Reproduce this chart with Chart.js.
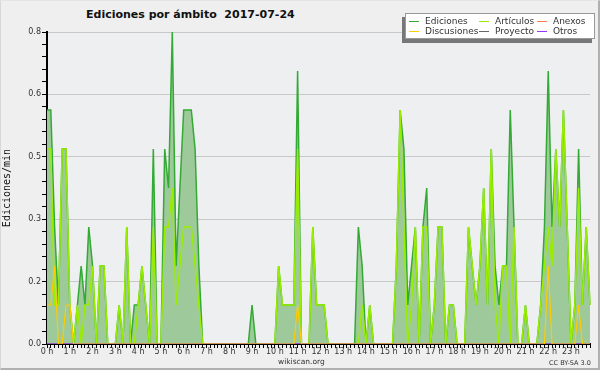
<!DOCTYPE html>
<html>
<head>
<meta charset="utf-8">
<script src="https://cdn.jsdelivr.net/npm/chart.js"></script>
<style>
    body { margin: 0; background: #fff; }
    #wrap {
        position: relative; width: 600px; height: 370px; box-sizing: border-box;
        background: #efefef; border-left: 1px solid #d8d8d8; border-top: 1px solid #e4e4e4;
        border-right: 2px solid #b0b0b0; border-bottom: 2px solid #b0b0b0;
        font-family: "DejaVu Sans", sans-serif; color: #222;
    }
    #chart { position: absolute; left: 0; top: 0; }
    #title {
        position: absolute; left: 85px; top: 7px; font-size: 11px; font-weight: bold;
        white-space: pre; line-height: 13px; color: #111;
    }
    #legend {
        position: absolute; left: 404px; top: 12px; width: 188px; height: 24px;
        background: #fff; border: 1px solid #999; box-shadow: -3px 4px 0 #777;
        font-size: 9px; color: #333;
    }
    #legend .item { position: absolute; white-space: nowrap; line-height: 10px; }
    #legend .swatch { display: inline-block; width: 10px; height: 1px; vertical-align: middle; margin-right: 6px; }
    #foot1 { position: absolute; left: 277px; top: 356px; font-size: 7.5px; color: #333; }
    #foot2 { position: absolute; left: 548px; top: 358px; font-size: 6.5px; color: #333; }
</style>
</head>
<body>
<div id="wrap">
    <div id="title">Ediciones por ámbito  2017-07-24</div>
    <canvas id="chart" width="600" height="370"></canvas>
    <div id="legend"></div>
    <div id="foot1">wikiscan.org</div>
    <div id="foot2">CC BY-SA 3.0</div>
</div>
<script>
// edits per minute, one value every 10 minutes (144 slots)
const ediciones = [
    0.6, 0.6, 0.3, 0.1, 0.5, 0.5,   0.1, 0, 0.1, 0.2, 0.1, 0.3,
    0.2, 0, 0.2, 0.2, 0, 0,         0, 0.1, 0, 0.3, 0, 0.1,
    0.1, 0.2, 0.1, 0, 0.5, 0,       0, 0.5, 0.4, 0.8, 0.2, 0.4,
    0.6, 0.6, 0.6, 0.5, 0.2, 0,     0, 0, 0, 0, 0, 0,
    0, 0, 0, 0, 0, 0,               0.1, 0, 0, 0, 0, 0,
    0, 0.2, 0.1, 0.1, 0.1, 0.1,     0.7, 0, 0, 0, 0.3, 0.1,
    0.1, 0.1, 0, 0, 0, 0,           0, 0, 0, 0, 0.3, 0.2,
    0, 0.1, 0, 0, 0, 0,             0, 0, 0.2, 0.6, 0.5, 0.1,
    0.2, 0.3, 0, 0.3, 0.4, 0,       0.1, 0.3, 0.3, 0, 0.1, 0.1,
    0, 0, 0, 0.3, 0.2, 0.1,         0.2, 0.4, 0.1, 0.5, 0.2, 0.1,
    0.2, 0.2, 0.6, 0.3, 0, 0,       0.1, 0, 0, 0, 0.1, 0.3,
    0.7, 0.3, 0.5, 0.3, 0.6, 0.3,   0, 0.1, 0.5, 0.1, 0.3, 0.1
];
const articulos = [
    0.5, 0.5, 0.1, 0.1, 0.5, 0.5,   0.1, 0, 0.1, 0, 0.1, 0.1,
    0.2, 0, 0.2, 0.2, 0, 0,         0, 0.1, 0, 0.3, 0, 0,
    0.1, 0.2, 0.1, 0, 0.3, 0,       0, 0.3, 0.3, 0.4, 0.1, 0.2,
    0.3, 0.3, 0.3, 0.2, 0.1, 0,     0, 0, 0, 0, 0, 0,
    0, 0, 0, 0, 0, 0,               0, 0, 0, 0, 0, 0,
    0, 0.2, 0.1, 0.1, 0.1, 0.1,     0.5, 0, 0, 0, 0.3, 0.1,
    0.1, 0.1, 0, 0, 0, 0,           0, 0, 0, 0, 0, 0.1,
    0, 0.1, 0, 0, 0, 0,             0, 0, 0.2, 0.6, 0.3, 0,
    0.1, 0.3, 0, 0.3, 0.3, 0,       0.1, 0.3, 0.3, 0, 0.1, 0.1,
    0, 0, 0, 0.3, 0.2, 0.1,         0.2, 0.4, 0.1, 0.5, 0.1, 0,
    0.2, 0.2, 0, 0.3, 0, 0,         0.1, 0, 0, 0, 0.1, 0.2,
    0.3, 0.2, 0.5, 0.3, 0.6, 0.3,   0, 0.1, 0.4, 0.1, 0.3, 0.1
];
const discusiones = [
    0.1, 0.1, 0.2, 0, 0, 0.1,   0.1, 0, 0, 0, 0, 0,
    0, 0, 0, 0, 0, 0,           0, 0, 0, 0, 0, 0,
    0, 0, 0, 0, 0, 0,           0, 0, 0, 0, 0, 0,
    0, 0, 0, 0, 0, 0,           0, 0, 0, 0, 0, 0,
    0, 0, 0, 0, 0, 0,           0, 0, 0, 0, 0, 0,
    0, 0, 0, 0, 0, 0,           0.1, 0, 0, 0, 0, 0,
    0, 0, 0, 0, 0, 0,           0, 0, 0, 0, 0, 0,
    0, 0, 0, 0, 0, 0,           0, 0, 0, 0, 0, 0,
    0, 0, 0, 0, 0, 0,           0, 0, 0, 0, 0, 0,
    0, 0, 0, 0, 0, 0,           0, 0, 0, 0, 0, 0,
    0, 0, 0, 0, 0, 0,           0, 0, 0, 0, 0, 0,
    0.2, 0, 0, 0, 0, 0,         0, 0, 0.1, 0, 0, 0
];
// these namespaces had no activity this day
const anexos = new Array(144).fill(0);
const proyecto = new Array(144).fill(0);
const otros = new Array(144).fill(0);

const yLabels = ['0.0', '0.2', '0.3', '0.5', '0.6', '0.8'];
const yMax = 0.8;

// 10 minute slots, hour label on each full hour
const slots = [];
for (let h = 0; h < 24; h++) {
    for (let m = 0; m < 60; m += 10) {
        slots.push(h + ':' + (m < 10 ? '0' : '') + m);
    }
}

const series = [
    { label: 'Ediciones', data: ediciones, color: '#33aa33', width: 1.5, order: 6 },
    { label: 'Artículos', data: articulos, color: '#99ee00', width: 1.5, order: 5 },
    { label: 'Anexos', data: anexos, color: '#ff7f50', width: 1, order: 4 },
    { label: 'Discusiones', data: discusiones, color: '#ffcc00', width: 1.2, order: 1 },
    { label: 'Proyecto', data: proyecto, color: '#666666', width: 1, order: 3 },
    { label: 'Otros', data: otros, color: '#9933ff', width: 1, order: 2 }
];

// legend (3 columns x 2 rows)
const legendBox = document.getElementById('legend');
const colX = [3, 73, 131];
series.forEach(function(s, i) {
    const div = document.createElement('div');
    div.className = 'item';
    div.style.left = colX[i % 3] + 'px';
    div.style.top = (i < 3 ? 2 : 12) + 'px';
    div.innerHTML = '<span class="swatch" style="background:' + s.color + '"></span>' + s.label;
    legendBox.appendChild(div);
});

const plotBackground = {
    id: 'plotBackground',
    beforeDraw(chart) {
        const a = chart.chartArea;
        chart.ctx.save();
        chart.ctx.fillStyle = '#eeeff1';
        chart.ctx.fillRect(a.left, a.top, a.right - a.left, a.bottom - a.top);
        chart.ctx.restore();
    }
};

new Chart(document.getElementById('chart'), {
    type: 'line',
    data: {
        labels: slots,
        datasets: series.map(function(s, i) {
            return {
                label: s.label,
                data: s.data,
                borderColor: s.color,
                borderWidth: s.width,
                backgroundColor: '#9dc99b',
                fill: i === 0 ? 'origin' : false,
                pointRadius: 0,
                tension: 0,
                order: s.order
            };
        })
    },
    options: {
        responsive: false,
        animation: false,
        layout: { padding: { top: 31, right: 11, left: 0, bottom: 0 } },
        plugins: {
            legend: { display: false },
            title: { display: false },
            tooltip: { enabled: false }
        },
        scales: {
            x: {
                z: 1,
                afterFit: function(scale) { scale.height = 27; },
                border: { color: '#000', width: 2 },
                grid: { drawOnChartArea: false, tickLength: 4, color: '#000' },
                ticks: {
                    autoSkip: false,
                    maxRotation: 0,
                    padding: 0,
                    color: '#333',
                    font: { family: 'DejaVu Sans', size: 8, lineHeight: 1 },
                    callback: function(v, i) { return i % 6 === 0 ? (i / 6) + ' h' : ''; }
                }
            },
            y: {
                min: 0,
                max: yMax,
                afterFit: function(scale) { scale.width = 46; },
                afterBuildTicks: function(scale) {
                    const t = [];
                    for (let k = 0; k <= 25; k++) t.push({ value: k * yMax / 25 });
                    scale.ticks = t;
                },
                border: { color: '#000', width: 2 },
                grid: {
                    color: function(ctx) { return ctx.index % 5 === 0 ? '#c8c8c8' : 'rgba(0,0,0,0)'; },
                    tickColor: '#000',
                    tickLength: 5
                },
                ticks: {
                    autoSkip: false,
                    padding: 1,
                    color: '#333',
                    font: { family: 'DejaVu Sans', size: 8 },
                    callback: function(v, i) { return i % 5 === 0 ? yLabels[i / 5] : ''; }
                },
                title: {
                    display: true,
                    text: 'Ediciones/min',
                    color: '#111',
                    padding: 0,
                    font: { family: 'DejaVu Sans Mono', size: 10 }
                }
            }
        }
    },
    plugins: [plotBackground]
});
</script>
</body>
</html>
